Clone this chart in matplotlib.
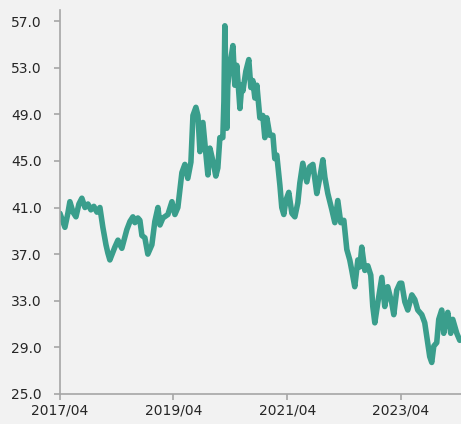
import matplotlib
matplotlib.use("Agg")
from matplotlib import pyplot as plt
import matplotlib.dates as mdates
import pandas as pd

dates = [
    "2017-04-01", "2017-04-20", "2017-05-03", "2017-05-22", "2017-06-04", "2017-06-24",
    "2017-07-13", "2017-08-01", "2017-08-20", "2017-09-09", "2017-09-28", "2017-10-17",
    "2017-11-05", "2017-11-25", "2017-12-14", "2018-01-02", "2018-01-22", "2018-02-03",
    "2018-02-16", "2018-03-08", "2018-03-20", "2018-04-09", "2018-04-22", "2018-05-04",
    "2018-05-24", "2018-06-05", "2018-06-25", "2018-07-14", "2018-07-27", "2018-08-15",
    "2018-08-28", "2018-09-10", "2018-09-29", "2018-10-18", "2018-11-13", "2018-12-02",
    "2018-12-22", "2019-01-04", "2019-01-23", "2019-02-24", "2019-03-22", "2019-04-10",
    "2019-04-29", "2019-05-25", "2019-06-13", "2019-07-02", "2019-07-22", "2019-08-04",
    "2019-08-23", "2019-09-05", "2019-09-18", "2019-10-07", "2019-11-08", "2019-11-21",
    "2019-12-10", "2019-12-29", "2020-01-11", "2020-01-24", "2020-02-12", "2020-02-19",
    "2020-02-25", "2020-03-09", "2020-03-15", "2020-03-28", "2020-04-17", "2020-04-29",
    "2020-05-12", "2020-06-01", "2020-06-13", "2020-06-20", "2020-07-09", "2020-07-28",
    "2020-08-10", "2020-08-23", "2020-09-05", "2020-09-18", "2020-10-07", "2020-10-26",
    "2020-11-08", "2020-11-21", "2020-12-10", "2020-12-30", "2021-01-11", "2021-01-24",
    "2021-02-13", "2021-02-25", "2021-03-10", "2021-03-23", "2021-04-11", "2021-05-01",
    "2021-05-20", "2021-06-08", "2021-06-21", "2021-07-10", "2021-08-05", "2021-08-24",
    "2021-09-13", "2021-10-08", "2021-10-28", "2021-11-16", "2021-11-29", "2021-12-18",
    "2022-01-13", "2022-02-01", "2022-02-20", "2022-03-11", "2022-03-31", "2022-04-19",
    "2022-05-08", "2022-05-21", "2022-06-09", "2022-06-29", "2022-07-12", "2022-07-24",
    "2022-08-13", "2022-09-01", "2022-09-20", "2022-10-03", "2022-10-16", "2022-11-04",
    "2022-11-30", "2022-12-19", "2023-01-07", "2023-02-02", "2023-02-15", "2023-03-06",
    "2023-03-26", "2023-04-07", "2023-04-27", "2023-05-16", "2023-06-11", "2023-06-30",
    "2023-07-19", "2023-08-14", "2023-09-02", "2023-09-21", "2023-10-04", "2023-10-17",
    "2023-10-30", "2023-11-18", "2023-12-01", "2023-12-20", "2024-01-02", "2024-01-15",
    "2024-01-28", "2024-02-16", "2024-02-29", "2024-03-26", "2024-04-14",
]

values = [
    40.5, 39.8, 39.3, 40.5, 41.5, 40.6,
    40.2, 41.3, 41.8, 41.0, 41.3, 40.8,
    41.1, 40.6, 41.0, 39.3, 37.8, 37.1,
    36.5, 37.2, 37.6, 38.2, 37.8, 37.5,
    38.5, 39.1, 39.8, 40.2, 39.7, 40.1,
    39.9, 38.6, 38.4, 37.0, 37.8, 39.8,
    41.0, 39.5, 40.1, 40.4, 41.5, 40.4,
    41.0, 44.0, 44.7, 43.5, 44.9, 48.9,
    49.6, 48.9, 45.8, 48.3, 43.8, 46.1,
    45.0, 43.7, 44.4, 47.0, 47.0, 50.1,
    56.6, 47.8, 51.5, 53.2, 54.9, 51.5,
    53.2, 49.5, 51.5, 51.0, 52.7, 53.7,
    51.3, 51.9, 50.4, 51.5, 48.7, 48.9,
    47.0, 48.7, 47.2, 47.2, 45.2, 45.5,
    42.9, 41.0, 40.4, 41.6, 42.3, 40.5,
    40.2, 41.4, 43.1, 44.8, 43.2, 44.5,
    44.7, 42.2, 43.6, 45.1, 43.6, 42.2,
    40.8, 39.7, 41.6, 39.7, 39.9, 37.4,
    36.5, 35.6, 34.2, 36.5, 35.9, 37.6,
    35.6, 36.0, 35.2, 32.5, 31.1, 32.8,
    35.0, 32.5, 34.2, 32.8, 31.8, 33.9,
    34.5, 34.5, 32.9, 32.2, 33.5, 33.1,
    32.2, 31.8, 31.1, 29.4, 28.2, 27.7,
    29.1, 29.4, 31.4, 32.2, 30.2, 31.4,
    32.0, 30.2, 31.4, 30.2, 29.6,
]

y_ticks = [25, 29, 33, 37, 41, 45, 49, 53, 57]
x_ticks = ["2017-04-01", "2019-04-01", "2021-04-01", "2023-04-01"]

bg = "#f2f2f2"
line_color = "#3a9e8c"
axis_color = "#a6a6a6"

fig = plt.figure(figsize=(4.61, 4.24), dpi=100, facecolor=bg)
ax = fig.add_axes([0.130, 0.071, 0.870, 0.905], facecolor=bg)

x = pd.to_datetime(dates)
ax.plot(x, values, color=line_color, linewidth=4.0, solid_joinstyle="round",
        solid_capstyle="round")

ax.set_ylim(25, 57.94)
ax.set_xlim(pd.Timestamp("2017-04-01"), pd.Timestamp("2024-04-22"))
ax.set_yticks(y_ticks)
ax.set_yticklabels([f"{v:.1f}" for v in y_ticks])
ax.set_xticks(pd.to_datetime(x_ticks))
ax.xaxis.set_major_formatter(mdates.DateFormatter("%Y/%m"))

for side in ["top", "right"]:
    ax.spines[side].set_visible(False)
for side in ["left", "bottom"]:
    ax.spines[side].set_color(axis_color)
    ax.spines[side].set_linewidth(1.2)

ax.tick_params(axis="both", colors=axis_color, length=4, width=1.2,
               labelcolor="#262626", labelsize=10)
ax.tick_params(axis="y", pad=9)
ax.tick_params(axis="x", pad=3)

fig.savefig("out.png", dpi=100, facecolor=bg)
